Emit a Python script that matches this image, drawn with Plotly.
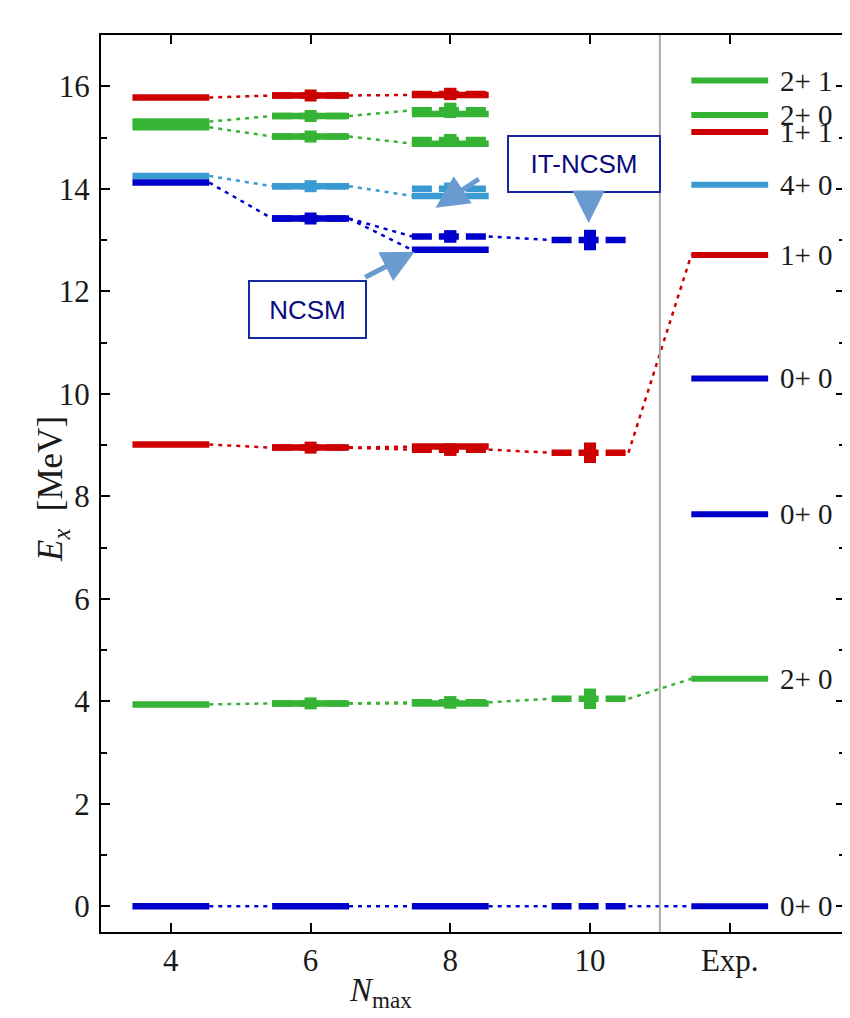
import plotly.graph_objects as go

# ---------------- data ----------------
cols = [4, 6, 8, 10]
exp_x = 12
tick_vals = [4, 6, 8, 10, 12]
tick_text = ["4", "6", "8", "10", "Exp."]

# NCSM (solid bars) and IT-NCSM (dashed bars with error markers), per Nmax column
r1_ncsm = [15.78, 15.82, 15.83, None]
r1_it = [None, 15.82, 15.85, None]
r1_err = [0, 0.06, 0.12, 0]

g1_ncsm = [15.31, 15.42, 15.46, None]
g1_it = [None, 15.42, 15.53, None]
g1_err = [0, 0.06, 0.15, 0]

g2_ncsm = [15.20, 15.02, 14.88, None]
g2_it = [None, 15.02, 14.95, None]
g2_err = [0, 0.06, 0.12, 0]

b1_ncsm = [14.25, 14.05, 13.86, None]
b1_it = [None, 14.05, 14.00, None]
b1_err = [0, 0.06, 0.12, 0]

b2_ncsm = [14.12, 13.42, 12.81, None]
b2_it = [None, 13.42, 13.07, 13.00]
b2_err = [0, 0.06, 0.12, 0.2]

r2_ncsm = [9.01, 8.95, 8.97, None]
r2_it = [None, 8.95, 8.91, 8.85]
r2_err = [0, 0.06, 0.12, 0.2]

g3_ncsm = [3.94, 3.96, 3.96, None]
g3_it = [None, 3.96, 3.98, 4.05]
g3_err = [0, 0.06, 0.12, 0.2]

b3_ncsm = [0.0, 0.0, 0.0, None]
b3_it = [None, None, None, 0.0]

# experiment
exp_E = [0.0, 4.44, 7.65, 10.30, 12.71, 14.08, 15.11, 15.44, 16.11]
exp_lab = ["0+ 0", "2+ 0", "0+ 0", "0+ 0", "1+ 0", "4+ 0", "1+ 1", "2+ 0", "2+ 1"]
exp_key = ["b", "g", "b", "b", "r", "l", "r", "g", "g"]

RED = "#CC0000"
GREEN = "#35B335"
LBLUE = "#3A9BD2"
DBLUE = "#0000CC"
CMAP = {"r": RED, "g": GREEN, "l": LBLUE, "b": DBLUE}

HW = 0.55
BARW = 6.5

series = [
    (RED, r1_ncsm, r1_it, r1_err),
    (GREEN, g1_ncsm, g1_it, g1_err),
    (GREEN, g2_ncsm, g2_it, g2_err),
    (LBLUE, b1_ncsm, b1_it, b1_err),
    (DBLUE, b2_ncsm, b2_it, b2_err),
    (RED, r2_ncsm, r2_it, r2_err),
    (GREEN, g3_ncsm, g3_it, g3_err),
    (DBLUE, b3_ncsm, b3_it, None),
]

# chains of levels joined by dotted lines
chains = [
    (RED, r1_ncsm),
    (GREEN, [g1_ncsm[0], g1_ncsm[1], g1_it[2], None]),
    (GREEN, g2_ncsm),
    (LBLUE, b1_ncsm),
    (DBLUE, b2_ncsm),
    (DBLUE, b2_it),
    (RED, r2_ncsm),
    (RED, r2_it),
    (GREEN, g3_ncsm),
    (GREEN, g3_it),
    (DBLUE, [b3_ncsm[0], b3_ncsm[1], b3_ncsm[2], b3_it[3]]),
]
exp_links = [(RED, r2_it[3], 12.71), (GREEN, g3_it[3], 4.44), (DBLUE, b3_it[3], 0.0)]


def bars(xc, vals):
    xs, ys = [], []
    for c, v in zip(xc, vals):
        if v is None:
            continue
        xs += [c - HW, c + HW, None]
        ys += [v, v, None]
    return xs, ys


fig = go.Figure()

DOT = dict(width=2.5, dash="4px,5px")
# dotted connectors
for color, vals in chains:
    xs, ys = [], []
    for i in range(len(cols) - 1):
        if vals[i] is not None and vals[i + 1] is not None:
            xs += [cols[i] + HW, cols[i + 1] - HW, None]
            ys += [vals[i], vals[i + 1], None]
    fig.add_trace(go.Scatter(x=xs, y=ys, mode="lines", line=dict(DOT, color=color),
                             hoverinfo="skip"))
for color, v0, v1 in exp_links:
    fig.add_trace(go.Scatter(x=[cols[-1] + HW, exp_x - HW], y=[v0, v1], mode="lines",
                             line=dict(DOT, color=color), hoverinfo="skip"))

# IT-NCSM dashed bars
for color, nc, it, err in series:
    xs, ys = bars(cols, it)
    fig.add_trace(go.Scatter(x=xs, y=ys, mode="lines",
                             line=dict(color=color, width=BARW, dash="20px,7px"),
                             hoverinfo="skip"))
# NCSM solid bars
for color, nc, it, err in series:
    xs, ys = bars(cols, nc)
    fig.add_trace(go.Scatter(x=xs, y=ys, mode="lines",
                             line=dict(color=color, width=BARW), hoverinfo="skip"))
# IT-NCSM markers with error bars
for color, nc, it, err in series:
    if err is None:
        continue
    mx = [c for c, v in zip(cols, it) if v is not None]
    my = [v for v in it if v is not None]
    me = [e for e, v in zip(err, it) if v is not None]
    fig.add_trace(go.Scatter(x=mx, y=my, mode="markers",
                             marker=dict(symbol="square", size=12, color=color),
                             error_y=dict(type="data", array=me, visible=True,
                                          thickness=12, width=0, color=color),
                             hoverinfo="skip"))

# experimental levels
for key, color in CMAP.items():
    vals = [e for e, k in zip(exp_E, exp_key) if k == key]
    xs, ys = bars([exp_x] * len(vals), vals)
    fig.add_trace(go.Scatter(x=xs, y=ys, mode="lines",
                             line=dict(color=color, width=6), hoverinfo="skip"))

SERIF = "Liberation Serif"
annotations = []
for e, lab in zip(exp_E, exp_lab):
    annotations.append(dict(x=12.69, y=e, xref="x", yref="y", text=lab, showarrow=False,
                            xanchor="left", yanchor="middle",
                            font=dict(family=SERIF, size=29, color="#1a1a1a")))

BOXFONT = dict(family="Liberation Sans", size=26, color="#0A0A80")
annotations.append(dict(x=9.92, y=14.48, xref="x", yref="y", text="IT-NCSM", showarrow=False,
                        font=BOXFONT, bgcolor="white", bordercolor="#1428A0", borderwidth=2,
                        width=148, height=52, borderpad=1))
annotations.append(dict(x=5.95, y=11.65, xref="x", yref="y", text="NCSM", showarrow=False,
                        font=BOXFONT, bgcolor="white", bordercolor="#1428A0", borderwidth=2,
                        width=113, height=53, borderpad=1))
ARROW = dict(xref="x", yref="y", axref="x", ayref="y", text="", showarrow=True,
             arrowhead=2, arrowsize=1.3, arrowwidth=5, arrowcolor="#6A9BD0")
annotations.append(dict(ARROW, x=9.98, y=13.33, ax=9.98, ay=13.88))
annotations.append(dict(ARROW, x=7.79, y=13.63, ax=8.43, ay=14.21))
annotations.append(dict(ARROW, x=7.49, y=12.77, ax=6.76, ay=12.26))

annotations.append(dict(x=7.0, y=-0.068, xref="x", yref="paper", text="<i>N</i><sub>max</sub>",
                        showarrow=False, yanchor="middle",
                        font=dict(family=SERIF, size=33, color="#1a1a1a")))
annotations.append(dict(x=-0.096, y=0.494, xref="paper", yref="paper",
                        text="<i>E<sub>x</sub></i>&nbsp;&nbsp;[MeV]", textangle=-90,
                        showarrow=False,
                        font=dict(family=SERIF, size=35, color="#1a1a1a")))

fig.add_shape(type="line", x0=11, x1=11, y0=0, y1=1, xref="x", yref="paper",
              line=dict(color="#AAAAAA", width=2))

axis_common = dict(showgrid=False, zeroline=False, showline=True, linecolor="black",
                   linewidth=2, mirror="ticks", ticks="inside", ticklen=9, tickwidth=2,
                   tickcolor="black",
                   tickfont=dict(family=SERIF, size=31, color="#1a1a1a"))

# the page body has an 8px default margin, so the figure is sized/offset to compensate
fig.update_layout(
    width=842, height=1010,
    margin=dict(l=93, r=3, t=27, b=86),
    plot_bgcolor="white", paper_bgcolor="white",
    showlegend=False,
    annotations=annotations,
    xaxis=dict(axis_common, range=[3.0, 13.65], tickvals=tick_vals, ticktext=tick_text,
               ticklabelstandoff=0),
    yaxis=dict(axis_common, range=[-0.5, 17], dtick=2, tick0=0, ticklabelstandoff=3,
               minor=dict(dtick=1, ticks="inside", ticklen=6, tickwidth=2, tickcolor="black")),
)

fig.write_html("out.html")
